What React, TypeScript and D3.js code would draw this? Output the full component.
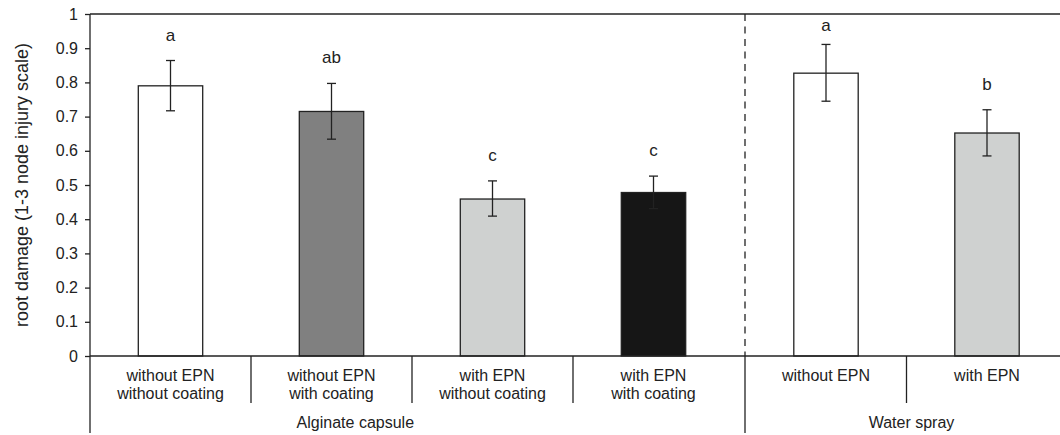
import React, { useEffect, useRef } from 'react';
import * as d3 from 'd3';

// categories, two lines each
const categories = [
  ['without EPN', 'without coating'],
  ['without EPN', 'with coating'],
  ['with EPN', 'without coating'],
  ['with EPN', 'with coating'],
  ['without EPN'],
  ['with EPN'],
];
const groups = ['Alginate capsule', 'Water spray'];
const groupOf = [0, 0, 0, 0, 1, 1];

const means = [0.79, 0.715, 0.459, 0.478, 0.827, 0.652];
const errLow = [0.717, 0.634, 0.409, 0.431, 0.745, 0.585];
const errHigh = [0.864, 0.797, 0.512, 0.526, 0.911, 0.72];
const letters = ['a', 'ab', 'c', 'c', 'a', 'b'];
const fills = ['#ffffff', '#808080', '#cfd1d0', '#161616', '#ffffff', '#cfd1d0'];

const yTicks = [0, 0.1, 0.2, 0.3, 0.4, 0.5, 0.6, 0.7, 0.8, 0.9, 1];
const yLabel = 'root damage (1-3 node injury scale)';

const W = 1060;
const H = 435;
const FONT = '"Liberation Sans", Arial, sans-serif';
const INK = '#222';

const App = () => {
  const svgRef = useRef<SVGSVGElement>(null);

  useEffect(() => {
    const svg = d3.select(svgRef.current);
    svg.selectAll('*').remove();

    const top = 14, bottom = 356, left = 90;
    const y = d3.scaleLinear().domain([0, 1]).range([bottom, top]);

    // one band scale per group
    const idx0 = categories.map((c, i) => i).filter(i => groupOf[i] === 0);
    const idx1 = categories.map((c, i) => i).filter(i => groupOf[i] === 1);
    const x0 = d3.scaleBand<number>().domain(idx0).range([left, 734]);
    const x1 = d3.scaleBand<number>().domain(idx1).range([745.5, 1067.5]);
    const bx = (i: number) => (groupOf[i] === 0 ? x0 : x1);
    const cx = (i: number) => bx(i)(i)! + bx(i).bandwidth() / 2;
    const barW = x0.bandwidth() * 0.4;
    const sep = 745;

    const g = svg.append('g').attr('font-family', FONT);

    // frame lines
    g.append('line').attr('x1', left).attr('x2', W).attr('y1', top).attr('y2', top)
      .attr('stroke', INK).attr('stroke-width', 1.3);
    g.append('line').attr('x1', left).attr('x2', left).attr('y1', top).attr('y2', 433)
      .attr('stroke', INK).attr('stroke-width', 1.3);

    // y axis
    const yAxis = d3.axisLeft(y).tickValues(yTicks).tickFormat(d => String(d))
      .tickSize(5).tickSizeOuter(0).tickPadding(7);
    const ya = g.append('g').attr('transform', `translate(${left},0)`).call(yAxis);
    ya.select('.domain').remove();
    ya.selectAll('line').attr('stroke', INK).attr('stroke-width', 1.3);
    ya.selectAll('text').attr('font-size', 16).attr('font-family', FONT).attr('fill', '#222');

    g.append('text')
      .attr('transform', `translate(28,${(top + bottom) / 2}) rotate(-90)`)
      .attr('text-anchor', 'middle')
      .attr('font-size', 18)
      .attr('fill', '#222')
      .text(yLabel);

    // dashed separator
    g.append('line').attr('x1', sep).attr('x2', sep).attr('y1', top).attr('y2', bottom)
      .attr('stroke', INK).attr('stroke-width', 1.3).attr('stroke-dasharray', '7,5.5');
    g.append('line').attr('x1', sep).attr('x2', sep).attr('y1', bottom).attr('y2', 433)
      .attr('stroke', INK).attr('stroke-width', 1.3);

    // bars
    g.selectAll('.bar').data(means).join('rect')
      .attr('class', 'bar')
      .attr('x', (d, i) => cx(i) - barW / 2)
      .attr('width', barW)
      .attr('y', d => y(d))
      .attr('height', d => y(0) - y(d))
      .attr('fill', (d, i) => fills[i])
      .attr('stroke', INK).attr('stroke-width', 1.3);

    // error bars
    const eb = g.selectAll('.err').data(means).join('g').attr('class', 'err')
      .attr('stroke', INK).attr('stroke-width', 1.3);
    eb.append('line').attr('x1', (d, i) => cx(i)).attr('x2', (d, i) => cx(i))
      .attr('y1', (d, i) => y(errLow[i])).attr('y2', (d, i) => y(errHigh[i]));
    eb.append('line').attr('x1', (d, i) => cx(i) - 4.5).attr('x2', (d, i) => cx(i) + 4.5)
      .attr('y1', (d, i) => y(errLow[i])).attr('y2', (d, i) => y(errLow[i]));
    eb.append('line').attr('x1', (d, i) => cx(i) - 4.5).attr('x2', (d, i) => cx(i) + 4.5)
      .attr('y1', (d, i) => y(errHigh[i])).attr('y2', (d, i) => y(errHigh[i]));

    // significance letters
    g.selectAll('.letter').data(letters).join('text')
      .attr('class', 'letter')
      .attr('x', (d, i) => cx(i))
      .attr('y', (d, i) => Math.max(y(errHigh[i]) - 20, 31))
      .attr('text-anchor', 'middle')
      .attr('font-size', 17)
      .attr('fill', '#222')
      .text(d => d);

    // x axis
    g.append('line').attr('x1', left).attr('x2', W).attr('y1', bottom).attr('y2', bottom)
      .attr('stroke', INK).attr('stroke-width', 1.3);
    const innerTicks = [...x0.domain().slice(1).map(i => x0(i)!), ...x1.domain().slice(1).map(i => x1(i)!)];
    g.selectAll('.ctick').data(innerTicks).join('line')
      .attr('class', 'ctick')
      .attr('x1', d => d).attr('x2', d => d).attr('y1', bottom).attr('y2', 403)
      .attr('stroke', INK).attr('stroke-width', 1.3);

    // category labels
    const cl = g.selectAll('.clabel').data(categories).join('text')
      .attr('class', 'clabel')
      .attr('text-anchor', 'middle')
      .attr('font-size', 16)
      .attr('fill', '#222');
    cl.selectAll('tspan').data((d, i) => d.map(t => ({ t, i }))).join('tspan')
      .attr('x', d => cx(d.i))
      .attr('y', (d, j) => 381 + j * 18)
      .text(d => d.t);

    // group labels
    const gx = [
      x0.range()[0] + (x0.range()[1] - x0.range()[0]) * 0.412,
      (x1.range()[0] + x1.range()[1]) / 2 + 5,
    ];
    g.selectAll('.glabel').data(groups).join('text')
      .attr('class', 'glabel')
      .attr('x', (d, i) => gx[i])
      .attr('y', 428)
      .attr('text-anchor', 'middle')
      .attr('font-size', 16)
      .attr('fill', '#222')
      .text(d => d);
  }, []);

  return (
    <div style={{ position: 'absolute', left: 0, top: 0 }}>
      <svg ref={svgRef} width={W} height={H} style={{ display: 'block', background: '#fff' }} />
    </div>
  );
};

export default App;
